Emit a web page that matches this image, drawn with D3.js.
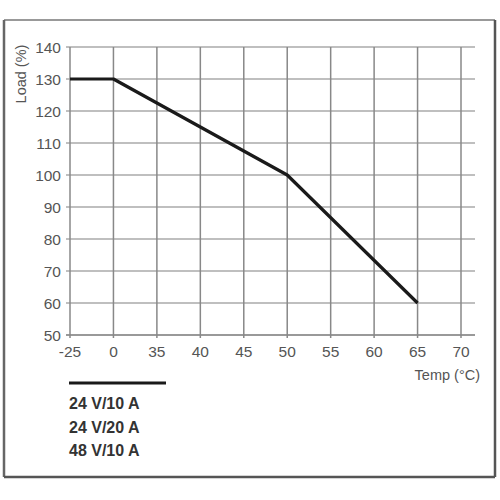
<!DOCTYPE html>
<html><head><meta charset="utf-8">
<script src="https://cdn.jsdelivr.net/npm/d3@7"></script>
<style>body{margin:0;background:#fff}svg{display:block}</style>
</head><body>
<script>
const xTickLabels = ["-25","0","35","40","45","50","55","60","65","70"];
const yTicks = [50,60,70,80,90,100,110,120,130,140];
const curveTemps = ["-25","0","50","65"];
const curveLoads = [130,130,100,60];
const legendLabels = ["24 V/10 A","24 V/20 A","48 V/10 A"];

const W=500,H=500;
const svg=d3.select("body").append("svg").attr("width",W).attr("height",H);
const narrow="'Liberation Sans Narrow','Arial Narrow','Liberation Sans',sans-serif";

// frame
svg.append("line").attr("x1",4).attr("x2",495).attr("y1",20).attr("y2",20).attr("stroke","#999").attr("stroke-width",2);
svg.append("line").attr("x1",4).attr("x2",4).attr("y1",20).attr("y2",477).attr("stroke","#666").attr("stroke-width",2.5);
svg.append("line").attr("x1",495).attr("x2",495).attr("y1",20).attr("y2",477).attr("stroke","#555").attr("stroke-width",2.5);
svg.append("line").attr("x1",4).attr("x2",495).attr("y1",477).attr("y2",477).attr("stroke","#555").attr("stroke-width",2.5);

const x=d3.scalePoint().domain(xTickLabels).range([70,461]);
const y=d3.scaleLinear().domain([50,140]).range([335,47]);
const right=475;

const g=svg.append("g");
g.selectAll("line.h").data(yTicks).join("line")
  .attr("x1",66).attr("x2",right).attr("y1",d=>y(d)).attr("y2",d=>y(d))
  .attr("stroke",d=>d===50?"#777":"#aaa").attr("stroke-width",1.6);
g.selectAll("line.v").data(xTickLabels).join("line")
  .attr("x1",d=>x(d)).attr("x2",d=>x(d)).attr("y1",y(140)).attr("y2",y(50)+3)
  .attr("stroke","#888").attr("stroke-width",1.5);

g.selectAll("text.yl").data(yTicks).join("text")
  .attr("x",61).attr("y",d=>y(d)+5.5).attr("text-anchor","end")
  .attr("font-family",narrow).attr("font-size",15.5).attr("fill","#555").text(d=>d);
g.selectAll("text.xl").data(xTickLabels).join("text")
  .attr("x",d=>x(d)).attr("y",357).attr("text-anchor","middle")
  .attr("font-family",narrow).attr("font-size",15.5).attr("fill","#555").text(d=>d);

svg.append("text").attr("transform","translate(26,74) rotate(-90)").attr("text-anchor","middle")
  .attr("font-family",narrow).attr("font-size",14.5).attr("fill","#555").text("Load (%)");
svg.append("text").attr("x",480).attr("y",380).attr("text-anchor","end")
  .attr("font-family",narrow).attr("font-size",14.5).attr("fill","#555").text("Temp (°C)");

const pts=curveTemps.map((t,i)=>[x(t),y(curveLoads[i])]);
svg.append("path").attr("d",d3.line()(pts)).attr("fill","none")
  .attr("stroke","#1a1a1a").attr("stroke-width",3.2).attr("stroke-linejoin","round");

svg.append("line").attr("x1",69).attr("x2",166).attr("y1",383).attr("y2",383)
  .attr("stroke","#1a1a1a").attr("stroke-width",3);
svg.selectAll("text.lg").data(legendLabels).join("text")
  .attr("x",69).attr("y",(d,i)=>409+i*23.5)
  .attr("font-family","'Liberation Sans',Arial,sans-serif").attr("font-weight","bold")
  .attr("font-size",16).attr("fill","#333").text(d=>d);
</script>
</body></html>
